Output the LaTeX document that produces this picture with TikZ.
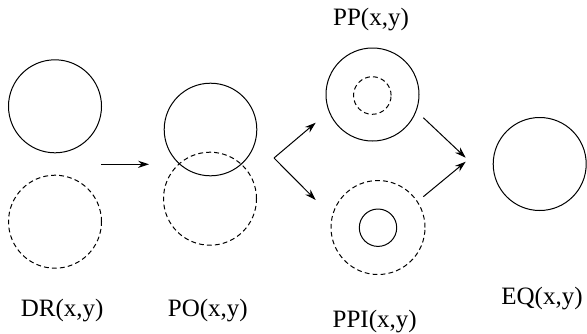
\documentclass[tikz,border=0pt]{standalone}
\usepackage{fontspec}
\setmainfont{Liberation Serif}
\usetikzlibrary{arrows.meta}
\begin{document}
\begin{tikzpicture}[>={Stealth[length=5.5pt,width=3.6pt]},x=0.5pt,y=0.5pt,line width=0.5pt]
				\tikzset{dashcirc/.style={dash pattern=on 2.4pt off 1.6pt},
					lab/.style={anchor=base,inner sep=0pt,font=\fontsize{12.5}{15}\selectfont}}
				\useasboundingbox (0,0) rectangle (587,333);
				% circles
				\draw (55,226.7) circle (46.5);
				\draw[dashcirc] (55,111.3) circle (46.5);
				\draw (210.5,203.5) circle (46.3);
				\draw[dashcirc] (210,134.3) circle (46.5);
				\draw (372.5,238.5) circle (46.5);
				\draw[dashcirc] (372.3,237.5) circle (18.8);
				\draw[dashcirc] (378,105.5) circle (47);
				\draw (378,105.3) circle (18.7);
				\draw (539.7,169) circle (46.5);
				% arrow ends
				\coordinate (s1) at (101,168.7);
				\coordinate (e1) at (149,168.7);
				\coordinate (fork) at (274,175);
				\coordinate (up) at (315.7,210.3);
				\coordinate (down) at (315.7,133);
				\coordinate (s2) at (423.3,215.3);
				\coordinate (e2) at (465.7,175.3);
				\coordinate (s3) at (423.3,136.3);
				\coordinate (e3) at (465.7,171.3);
				\draw[->] (s1)--(e1);
				\draw[->] (fork)--(up);
				\draw[->] (fork)--(down);
				\draw[->] (s2)--(e2);
				\draw[->] (s3)--(e3);
				% labels
				\node[lab] (dr) at (62.2,16.3) {DR(x,y)};
				\node[lab] (po) at (207.8,16.3) {PO(x,y)};
				\node[lab] (pp) at (371,307.3) {PP(x,y)};
				\node[lab] (ppi) at (374.7,5.7) {PPI(x,y)};
				\node[lab] (eq) at (542,29) {EQ(x,y)};
			\end{tikzpicture}
\end{document}
